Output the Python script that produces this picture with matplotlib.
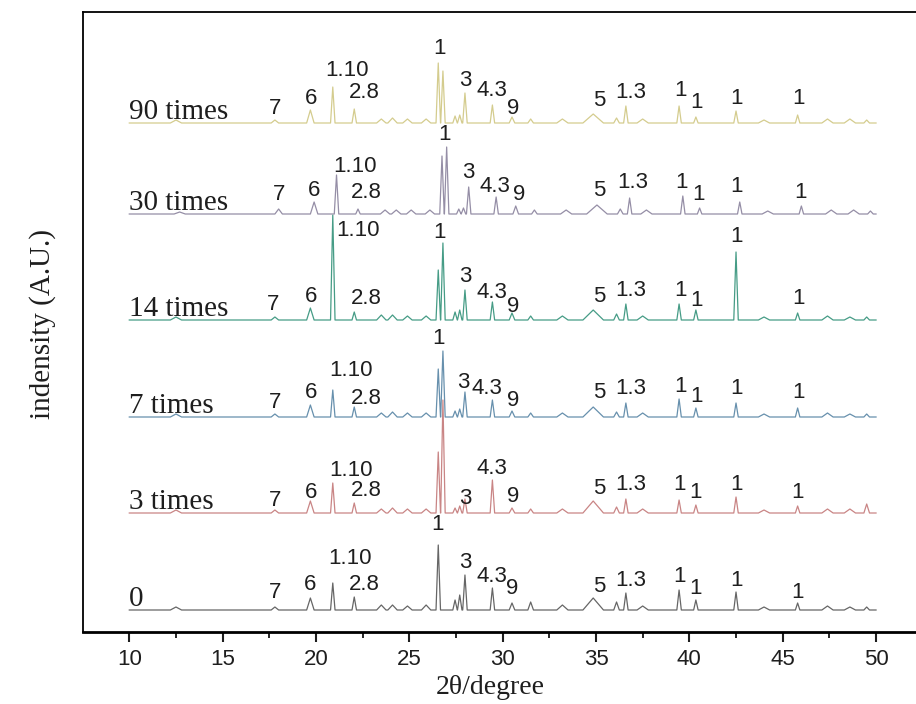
import matplotlib.pyplot as plt
from matplotlib.ticker import MultipleLocator

plt.rcParams['font.family'] = ['Liberation Sans', 'DejaVu Sans']

# peak positions (2theta) shared by all samples and half widths of each peak
peak_pos = [12.5, 17.8, 19.7, 20.9, 22.05, 23.5, 24.1, 24.9, 25.9, 26.55, 26.8,
            27.45, 27.7, 27.98, 29.45, 30.5, 31.5, 33.2, 34.85, 36.1, 36.6, 37.5,
            39.45, 40.35, 42.5, 44.0, 45.8, 47.4, 48.6, 49.5]
peak_hw = [0.3, 0.2, 0.2, 0.12, 0.12, 0.25, 0.25, 0.25, 0.25, 0.12, 0.12,
           0.12, 0.12, 0.12, 0.12, 0.15, 0.15, 0.3, 0.55, 0.15, 0.12, 0.3,
           0.12, 0.12, 0.12, 0.3, 0.12, 0.3, 0.3, 0.15]

# peak heights (A.U.) for each sample, same order as peak_pos
h_0 = [3, 3, 12, 27, 13, 5, 5, 4, 5, 65, 0, 10, 15, 35, 22, 7, 8, 5, 12, 8,
       17, 4, 20, 10, 18, 3, 7, 4, 3, 3]
h_3 = [3, 3, 12, 30, 10, 4, 5, 4, 4, 61, 113, 5, 7, 14, 33, 5, 4, 4, 12, 6,
       14, 4, 13, 8, 16, 3, 7, 4, 4, 9]
h_7 = [3, 3, 12, 27, 10, 4, 5, 4, 4, 48, 66, 6, 8, 25, 17, 6, 4, 4, 10, 5,
       14, 4, 18, 9, 14, 3, 9, 4, 3, 3]
h_14 = [3, 3, 12, 105, 8, 5, 5, 4, 4, 50, 77, 8, 10, 30, 18, 7, 4, 4, 10, 6,
        16, 4, 16, 10, 68, 3, 7, 4, 3, 3]
h_30 = [2, 5, 12, 39, 5, 4, 4, 4, 4, 58, 67, 5, 6, 27, 17, 8, 4, 4, 9, 5,
        16, 4, 18, 6, 12, 3, 8, 4, 4, 3]
h_90 = [3, 3, 13, 36, 14, 4, 5, 4, 4, 60, 52, 7, 8, 30, 18, 6, 4, 4, 9, 5,
        17, 4, 17, 6, 12, 3, 8, 4, 4, 3]

sample_names = ['0', '3 times', '7 times', '14 times', '30 times', '90 times']
heights = [h_0, h_3, h_7, h_14, h_30, h_90]
offsets = [22, 119, 215, 312, 418, 509]
shifts = [0, 0, 0, 0, 0.2, 0]
colors = ['#666666', '#c98585', '#6790ad', '#469c86', '#958ea6', '#d4cc8e']

# peak labels: (text, 2theta, height above baseline)
labels_0 = [('7', 17.8, 17), ('6', 19.7, 25), ('1.10', 21.83, 52), ('2.8', 22.6, 25),
            ('1', 26.5, 85), ('3', 28.0, 47), ('4.3', 29.4, 33), ('9', 30.5, 22),
            ('5', 35.15, 23), ('1.3', 36.87, 30), ('1', 39.45, 33), ('1', 40.35, 22),
            ('1', 42.5, 30), ('1', 45.8, 18)]
labels_3 = [('7', 17.8, 13), ('6', 19.73, 21), ('1.10', 21.86, 43), ('2.8', 22.7, 23),
            ('3', 28.0, 15), ('4.3', 29.43, 45), ('9', 30.55, 16), ('5', 35.15, 25),
            ('1.3', 36.87, 28), ('1', 39.45, 28), ('1', 40.35, 21), ('1', 42.5, 28),
            ('1', 45.8, 21)]
labels_7 = [('7', 17.8, 15), ('6', 19.73, 25), ('1.10', 21.86, 47), ('2.8', 22.7, 19),
            ('1', 26.55, 79), ('3', 27.88, 35), ('4.3', 29.15, 28), ('9', 30.55, 17),
            ('5', 35.15, 24), ('1.3', 36.87, 29), ('1', 39.5, 31), ('1', 40.4, 21),
            ('1', 42.5, 29), ('1', 45.86, 25)]
labels_14 = [('7', 17.7, 15), ('6', 19.73, 24), ('1.10', 22.25, 89), ('2.8', 22.7, 22),
             ('1', 26.6, 88), ('3', 28.0, 43), ('4.3', 29.4, 28), ('9', 30.55, 13),
             ('5', 35.15, 24), ('1.3', 36.87, 29), ('1', 39.5, 30), ('1', 40.4, 20),
             ('1', 42.5, 84), ('1', 45.86, 22)]
labels_30 = [('7', 18.0, 19), ('6', 19.9, 24), ('1.10', 22.1, 47), ('2.8', 22.7, 21),
             ('1', 26.9, 79), ('3', 28.15, 41), ('4.3', 29.6, 27), ('9', 30.86, 19),
             ('5', 35.2, 24), ('1.3', 36.96, 32), ('1', 39.6, 31), ('1', 40.5, 19),
             ('1', 42.55, 27), ('1', 45.97, 21)]
labels_90 = [('7', 17.8, 15), ('6', 19.73, 25), ('1.10', 21.66, 53), ('2.8', 22.6, 30),
             ('1', 26.6, 75), ('3', 28.0, 43), ('4.3', 29.4, 33), ('9', 30.55, 15),
             ('5', 35.15, 23), ('1.3', 36.87, 31), ('1', 39.5, 33), ('1', 40.4, 21),
             ('1', 42.5, 25), ('1', 45.86, 25)]
peak_labels = [labels_0, labels_3, labels_7, labels_14, labels_30, labels_90]

x_start, x_end = 10.0, 50.0

fig = plt.figure(figsize=(9.16, 7.04), dpi=100)
ax = fig.add_axes([82.7 / 916, 72 / 704, (941 - 82.7) / 916, 620 / 704])

for name, h, off, sh, col, labs in zip(sample_names, heights, offsets, shifts,
                                       colors, peak_labels):
    pts = [(x_start, 0.0), (x_end, 0.0)]
    for p, w, hh in zip(peak_pos, peak_hw, h):
        if hh <= 0:
            continue
        pts += [(p + sh - w, 0.0), (p + sh, hh), (p + sh + w, 0.0)]
    pts.sort()
    xs = [p[0] for p in pts]
    ys = [p[1] + off for p in pts]
    ax.plot(xs, ys, color=col, lw=0.9)

    ax.text(10.0, off + 4, name, family='Liberation Serif', fontsize=21,
            ha='left', va='baseline', color='#1e1e1e')
    for t, x, dy in labs:
        ax.text(x, off + dy, t, fontsize=16, ha='center', va='center', color='#1e1e1e')

ax.set_xlim(7.504, 53.48)
ax.set_ylim(0, 620)
ax.xaxis.set_major_locator(MultipleLocator(5))
ax.xaxis.set_minor_locator(MultipleLocator(2.5))
ax.tick_params(axis='x', which='major', direction='out', length=7, width=1.5,
               labelsize=16, pad=5, colors='#1e1e1e')
ax.tick_params(axis='x', which='minor', direction='out', length=4, width=1.2)
ax.tick_params(axis='y', left=False, labelleft=False)
ax.spines['right'].set_visible(False)
ax.spines['bottom'].set_linewidth(2)
ax.spines['left'].set_linewidth(1.3)
ax.spines['top'].set_linewidth(1.3)

fig.text(490 / 916, 1 - 687 / 704, '2θ/degree', family='Liberation Serif',
         fontsize=20, ha='center', va='center', color='#1e1e1e')
fig.text(43 / 916, 1 - 324 / 704, 'indensity (A.U.)', family='Liberation Serif',
         fontsize=21, rotation=90, ha='center', va='center', color='#1e1e1e')

fig.savefig('out.png', dpi=100)
